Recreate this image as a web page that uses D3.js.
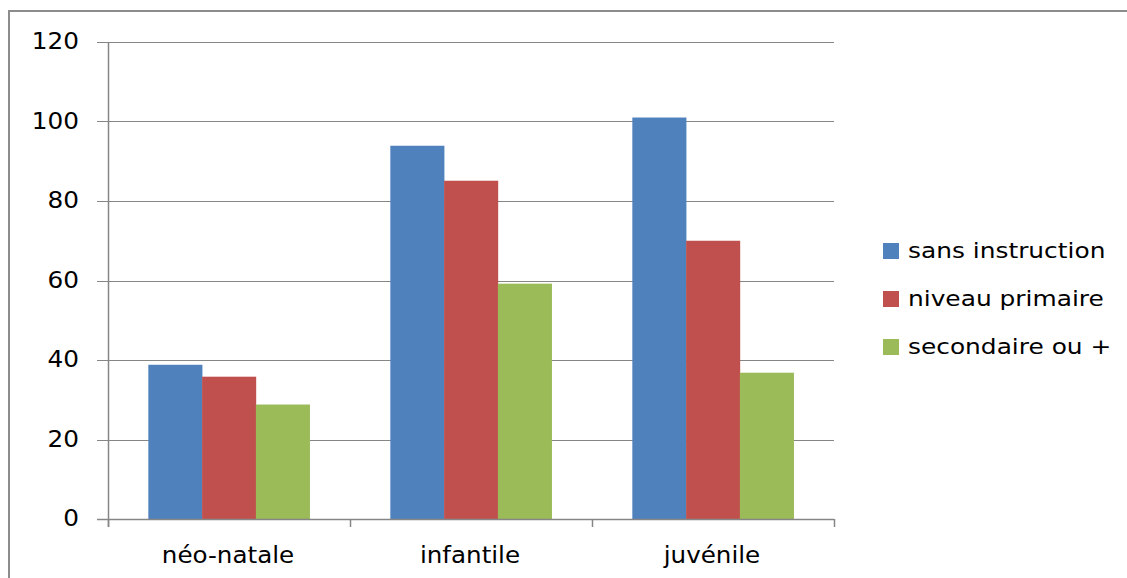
<!DOCTYPE html>
<html><head><meta charset="utf-8">
<script src="https://cdn.jsdelivr.net/npm/d3@7"></script>
<style>
html,body{margin:0;padding:0;background:#fff;}
svg{display:block;}
text{font-family:"DejaVu Sans",Verdana,sans-serif;fill:#000;}
</style></head>
<body>
<svg id="c" width="1127" height="578"></svg>
<script>
const categories = ["néo-natale", "infantile", "juvénile"];
const seriesNames = ["sans instruction", "niveau primaire", "secondaire ou +"];
const sansInstruction = [38.8, 93.9, 101];
const niveauPrimaire = [35.8, 85.1, 70.0];
const secondaireOuPlus = [28.8, 59.2, 36.8];
const yTicks = [0, 20, 40, 60, 80, 100, 120];
const colors = ["#4F81BD", "#C0504D", "#9BBB59"];

(function () {
const seriesValues = [sansInstruction, niveauPrimaire, secondaireOuPlus];
const svg = d3.select("#c");

// outer border
svg.append("rect").attr("x", 9).attr("y", 11).attr("width", 1140).attr("height", 600)
  .attr("fill", "none").attr("stroke", "#8c8c8c").attr("stroke-width", 2);

const pL = 108, pR = 834, pT = 42, pB = 519;
const x = d3.scaleBand().domain(categories).range([pL, pR]).paddingInner(0).paddingOuter(0);
const y = d3.scaleLinear().domain([0, 120]).range([pB, pT]);
const groupW = x.bandwidth() * 3 / 4.5;
const xs = d3.scaleBand().domain(seriesNames).range([0, groupW]);

const gridColor = "#868686";
// gridlines
svg.append("g").selectAll("line").data(yTicks).join("line")
  .attr("x1", pL - 11).attr("x2", pR)
  .attr("y1", d => Math.round(y(d)) + 0.5).attr("y2", d => Math.round(y(d)) + 0.5)
  .attr("stroke", gridColor).attr("stroke-width", 1.2);

// bars
const rows = [];
categories.forEach((c, i) => seriesNames.forEach((s, j) => rows.push({c, s, j, v: seriesValues[j][i]})));
svg.append("g").selectAll("rect").data(rows).join("rect")
  .attr("x", d => x(d.c) + (x.bandwidth() - groupW) / 2 + xs(d.s))
  .attr("width", xs.bandwidth() + 0.3)
  .attr("y", d => y(d.v))
  .attr("height", d => y(0) - y(d.v))
  .attr("fill", d => colors[d.j]);

// y axis line
svg.append("line").attr("x1", pL + 0.5).attr("x2", pL + 0.5).attr("y1", pT).attr("y2", pB + 8)
  .attr("stroke", gridColor).attr("stroke-width", 1.5);
// x axis line
svg.append("line").attr("x1", pL - 11).attr("x2", pR).attr("y1", pB + 0.5).attr("y2", pB + 0.5)
  .attr("stroke", gridColor).attr("stroke-width", 1.5);
// x ticks
const xTickPos = categories.map(c => x(c)).concat([pR]);
svg.append("g").selectAll("line").data(xTickPos).join("line")
  .attr("x1", d => Math.round(d) + 0.5).attr("x2", d => Math.round(d) + 0.5)
  .attr("y1", pB).attr("y2", pB + 8)
  .attr("stroke", gridColor).attr("stroke-width", 1.5);

// y labels
svg.append("g").selectAll("text").data(yTicks).join("text")
  .attr("transform", d => `translate(79,${y(d) + 7}) scale(1.1,1)`)
  .attr("text-anchor", "end").attr("font-size", 22.5)
  .text(d => d);

// x labels
svg.append("g").selectAll("text").data(categories).join("text")
  .attr("transform", d => `translate(${x(d) + x.bandwidth() / 2 - 1},563) scale(1.07,1)`)
  .attr("text-anchor", "middle").attr("font-size", 23)
  .text(d => d);

// legend
const lg = svg.append("g").selectAll("g").data(seriesNames).join("g")
  .attr("transform", (d, i) => `translate(883,${251 + i * 48})`);
lg.append("rect").attr("x", 0).attr("y", -8).attr("width", 16).attr("height", 16)
  .attr("fill", (d, i) => colors[i]);
lg.append("text").attr("transform", "translate(25,7) scale(1.13,1)")
  .attr("font-size", 22).text(d => d);
})();
</script>
</body></html>
